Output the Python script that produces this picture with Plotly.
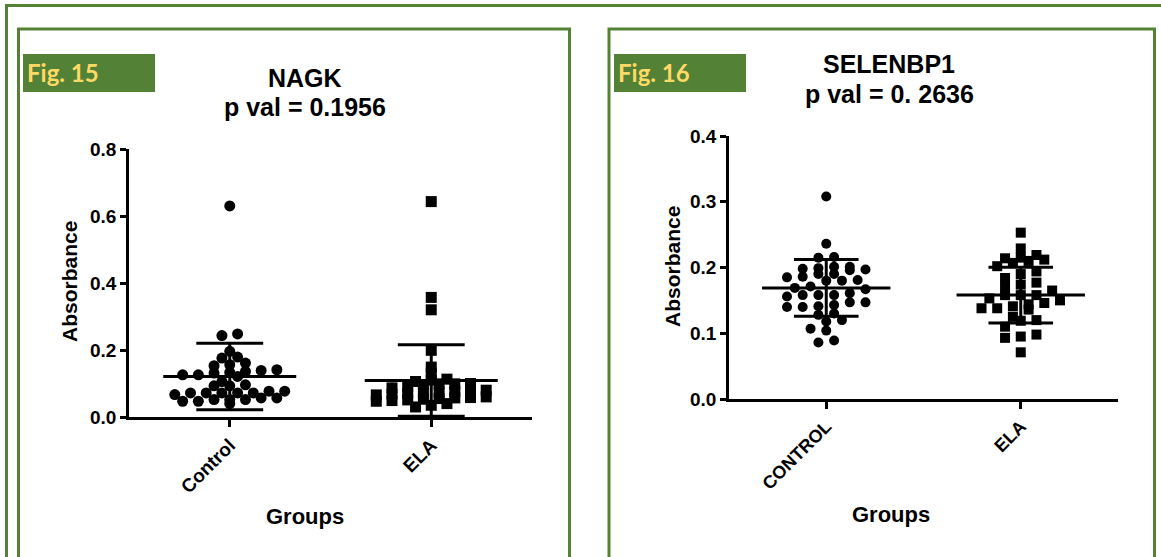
import plotly.graph_objects as go
import numpy as np

# ---------------- data ----------------
groups_nagk = ["Control", "ELA"]
groups_sel = ["CONTROL", "ELA"]

nagk_control = [0.630, 0.248, 0.243, 0.196, 0.176, 0.179, 0.161, 0.153, 0.156,
                0.131, 0.126, 0.136, 0.139, 0.141, 0.121, 0.126, 0.133, 0.093,
                0.096, 0.106, 0.093, 0.072, 0.072, 0.072, 0.077, 0.072, 0.077,
                0.072, 0.067, 0.057, 0.052, 0.052, 0.047, 0.047, 0.052, 0.057, 0.040]
nagk_ela = [0.643, 0.357, 0.320, 0.199, 0.149, 0.131, 0.113, 0.110, 0.106,
            0.099, 0.099, 0.100, 0.097, 0.090, 0.087,
            0.080, 0.078, 0.076, 0.074, 0.072, 0.070, 0.068, 0.066,
            0.060, 0.058, 0.057, 0.055, 0.053, 0.051, 0.049, 0.047,
            0.040, 0.035, 0.030]
nagk_mean = [0.121, 0.109]
nagk_sd = [0.0995, 0.107]

sel_control = [0.308, 0.236, 0.216, 0.215, 0.201, 0.201, 0.199, 0.198, 0.197, 0.196,
               0.190, 0.190, 0.186, 0.185, 0.181, 0.180, 0.180, 0.171, 0.169, 0.167,
               0.161, 0.158, 0.158, 0.158, 0.156, 0.147, 0.147, 0.143, 0.141, 0.140,
               0.140, 0.130, 0.128, 0.120, 0.118, 0.107, 0.104, 0.089, 0.086]
sel_ela = [0.253, 0.229, 0.219, 0.215, 0.214, 0.212, 0.210, 0.207, 0.202, 0.194,
           0.190, 0.184, 0.177, 0.174, 0.171, 0.165, 0.158, 0.158, 0.158, 0.153,
           0.146, 0.144, 0.141, 0.138, 0.138, 0.136, 0.150, 0.125, 0.120, 0.119,
           0.110, 0.098, 0.095, 0.093, 0.071]
sel_mean = [0.169, 0.158]
sel_sd = [0.043, 0.0425]

nagk_yticks = [0.0, 0.2, 0.4, 0.6, 0.8]
sel_yticks = [0.0, 0.1, 0.2, 0.3, 0.4]

titles = [["NAGK", "p val = 0.1956"], ["SELENBP1", "p val = 0. 2636"]]
fig_labels = ["Fig. 15", "Fig. 16"]

# ---------------- layout geometry (pixels) ----------------
W, H = 1161, 557
GREEN = "#548235"
FONT = "Liberation Sans, Arial, sans-serif"


def px(x):
    return x / W


def py(y):
    return 1 - y / H


panels = [
    dict(x0=129, x1=532, yb=417, yt=149, ymax=0.8, ticks=nagk_yticks, groups=groups_nagk,
         data=[nagk_control, nagk_ela], mean=nagk_mean, sd=nagk_sd, msize=11, binh=7.0,
         title_x=305, t1y=78, t2y=107, ylab=(70, 282), xlab=(305, 516),
         box=(18.5, 569.5), figbox=(23, 155), ticksize=19),
    dict(x0=729, x1=1118, yb=399, yt=136, ymax=0.4, ticks=sel_yticks, groups=groups_sel,
         data=[sel_control, sel_ela], mean=sel_mean, sd=sel_sd, msize=10, binh=10.0,
         title_x=889, t1y=64, t2y=94, ylab=(672, 267), xlab=(891, 514),
         box=(609, 1154.5), figbox=(614, 746), ticksize=18),
]


def column_scatter(values, ppx, ppy, binh, spacing):
    """Prism-like column scatter: points in the same horizontal band sit side by side."""
    values = np.asarray(values, float)
    bins = np.floor(values * ppy / binh).astype(int)
    off = np.zeros(len(values))
    for b in np.unique(bins):
        idx = np.where(bins == b)[0]
        idx = idx[np.argsort(values[idx])]
        n = len(idx)
        for j, i in enumerate(idx):
            off[i] = (j - (n - 1) / 2.0) * spacing / ppx
    return off


fig = go.Figure()
shapes = []
annotations = []
layout_axes = {}

for k, p in enumerate(panels):
    xa = "x" if k == 0 else "x2"
    ya = "y" if k == 0 else "y2"
    ppx = (p["x1"] - p["x0"]) / 2.0
    ppy = (p["yb"] - p["yt"]) / p["ymax"]
    symbols = ["circle", "square"]
    for g, vals in enumerate(p["data"]):
        off = column_scatter(vals, ppx, ppy, binh=p["binh"], spacing=15.7)
        fig.add_trace(go.Scatter(
            x=g + off, y=vals, mode="markers", xaxis=xa, yaxis=ya,
            marker=dict(symbol=symbols[g], size=p["msize"], color="black",
                        line=dict(width=0)),
            showlegend=False, cliponaxis=False, hoverinfo="skip"))
    # mean and SD lines
    lx, ly = [], []
    for g in range(2):
        m, s = p["mean"][g], p["sd"][g]
        lx += [g - 0.33, g + 0.33, None, g - 0.166, g + 0.166, None,
               g - 0.166, g + 0.166, None, g, g, None]
        ly += [m, m, None, m + s, m + s, None, m - s, m - s, None, m - s, m + s, None]
    fig.add_trace(go.Scatter(x=lx, y=ly, mode="lines", xaxis=xa, yaxis=ya,
                             line=dict(color="black", width=3), showlegend=False,
                             cliponaxis=False, hoverinfo="skip"))

    sfx = "" if k == 0 else "2"
    layout_axes["xaxis" + sfx] = dict(
        domain=[px(p["x0"]), px(p["x1"])], range=[-0.5, 1.5], anchor=ya,
        showline=True, linecolor="black", linewidth=2.5, showgrid=False, zeroline=False,
        ticks="outside", ticklen=7, tickwidth=2.5, tickcolor="black",
        tickvals=[0, 1], ticktext=p["groups"], tickangle=-45, automargin=False,
        tickfont=dict(family=FONT, size=p["ticksize"], color="black", weight="bold"),
        fixedrange=True)
    layout_axes["yaxis" + sfx] = dict(
        domain=[py(p["yb"]), py(p["yt"])], range=[0, p["ymax"]], anchor=xa,
        showline=True, linecolor="black", linewidth=2.5, showgrid=False, zeroline=False,
        ticks="outside", ticklen=6, tickwidth=2.5, tickcolor="black",
        tickvals=p["ticks"], ticktext=["%.1f" % t for t in p["ticks"]], automargin=False,
        tickfont=dict(family=FONT, size=19, color="black", weight="bold"),
        fixedrange=True)

    # titles
    for line_i, ty in enumerate([p["t1y"], p["t2y"]]):
        annotations.append(dict(x=px(p["title_x"]), y=py(ty), xref="paper", yref="paper",
                                text="<b>%s</b>" % titles[k][line_i], showarrow=False,
                                font=dict(family=FONT, size=25, color="black"),
                                xanchor="center", yanchor="middle"))
    # axis titles
    annotations.append(dict(x=px(p["ylab"][0]), y=py(p["ylab"][1]), xref="paper", yref="paper",
                            text="<b>Absorbance</b>", showarrow=False, textangle=-90,
                            font=dict(family=FONT, size=21, color="black"),
                            xanchor="center", yanchor="middle"))
    annotations.append(dict(x=px(p["xlab"][0]), y=py(p["xlab"][1]), xref="paper", yref="paper",
                            text="<b>Groups</b>", showarrow=False,
                            font=dict(family=FONT, size=22, color="black"),
                            xanchor="center", yanchor="middle"))
    # Fig label box
    fx0, fx1 = p["figbox"]
    shapes.append(dict(type="rect", xref="paper", yref="paper",
                       x0=px(fx0), x1=px(fx1), y0=py(92), y1=py(54),
                       fillcolor="#538135", line=dict(width=0), layer="below"))
    annotations.append(dict(x=px(fx0 + 2), y=py(73), xref="paper", yref="paper",
                            text="<b>%s</b>" % fig_labels[k], showarrow=False,
                            font=dict(family="Lato, sans-serif", size=24, color="#FFD966"),
                            xanchor="left", yanchor="middle"))
    # panel box (open at the bottom)
    bx0, bx1 = p["box"]
    shapes.append(dict(type="path", xref="paper", yref="paper",
                       path="M %f,%f L %f,%f L %f,%f L %f,%f" % (
                           px(bx0), 0.0, px(bx0), py(29), px(bx1), py(29), px(bx1), 0.0),
                       line=dict(color=GREEN, width=3)))

# outer frame lines
shapes.append(dict(type="path", xref="paper", yref="paper",
                   path="M %f,%f L %f,%f L %f,%f" % (px(6.5), 0.0, px(6.5), py(5.5),
                                                    1.0, py(5.5)),
                   line=dict(color=GREEN, width=3)))

fig.update_layout(
    width=W, height=H, margin=dict(l=0, r=0, t=0, b=0, pad=0, autoexpand=False),
    paper_bgcolor="white", plot_bgcolor="white",
    shapes=shapes, annotations=annotations, showlegend=False,
    font=dict(family=FONT, color="black"),
    **layout_axes)

fig.write_html("out.html", config={"displayModeBar": False})
